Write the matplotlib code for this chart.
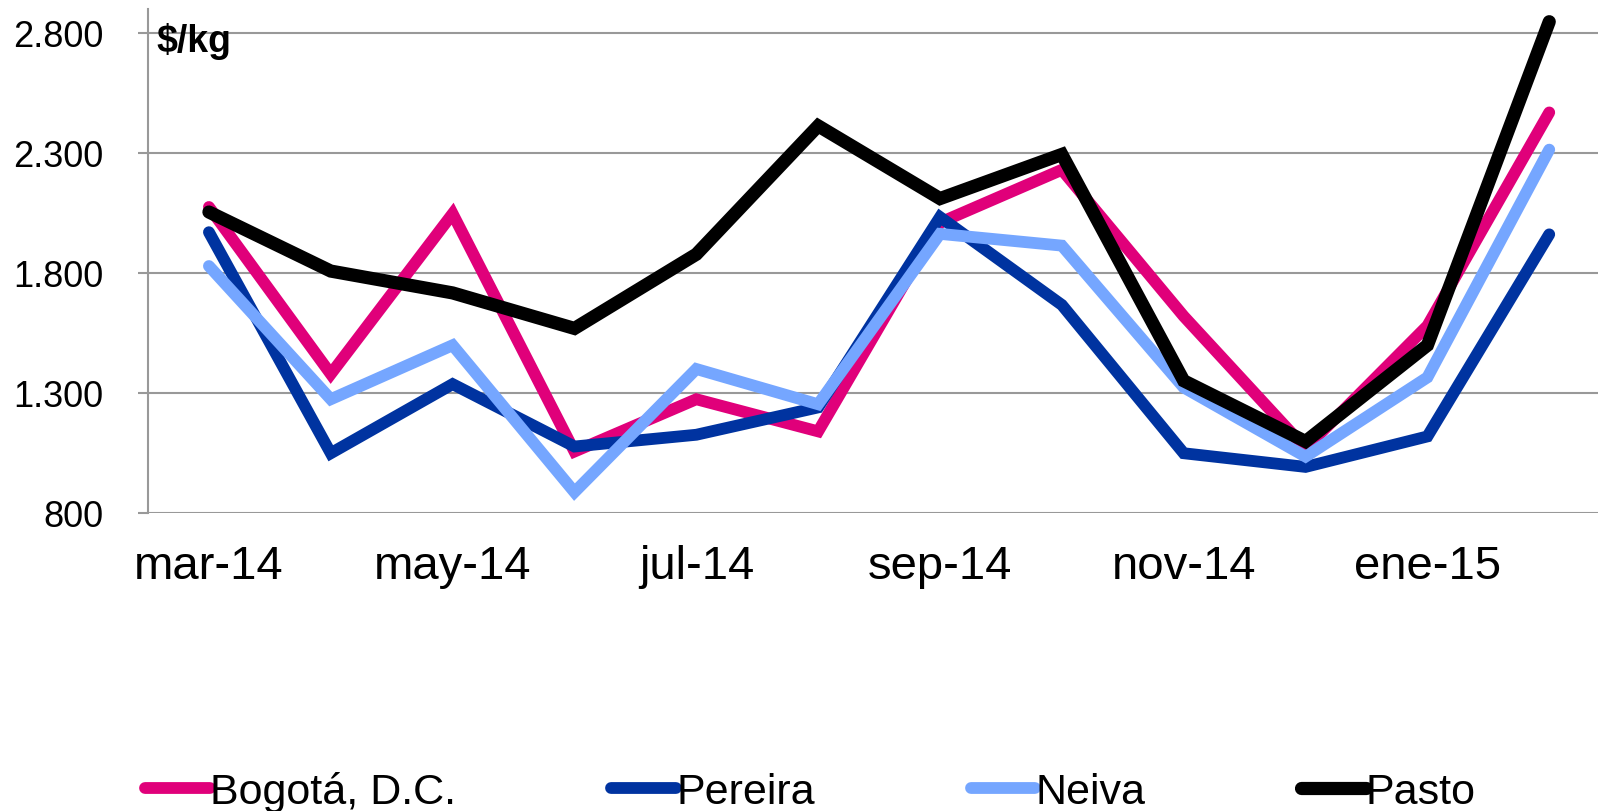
import matplotlib
matplotlib.use("Agg")
import matplotlib.pyplot as plt

plt.rcParams['font.family'] = ['Liberation Sans', 'DejaVu Sans']

months = ['mar-14', 'abr-14', 'may-14', 'jun-14', 'jul-14', 'ago-14',
          'sep-14', 'oct-14', 'nov-14', 'dic-14', 'ene-15', 'feb-15']
bogota = [2075, 1379, 2047, 1056, 1274, 1140, 2010, 2230, 1620, 1070, 1580, 2469]
pereira = [1970, 1049, 1337, 1077, 1126, 1240, 2033, 1667, 1049, 992, 1119, 1961]
neiva = [1829, 1274, 1499, 887, 1400, 1253, 1963, 1914, 1323, 1035, 1365, 2314]
pasto = [2054, 1808, 1717, 1569, 1878, 2413, 2110, 2294, 1351, 1098, 1499, 2847]
yticks = [800, 1300, 1800, 2300, 2800]
ytick_labels = ['800', '1.300', '1.800', '2.300', '2.800']

fig = plt.figure(figsize=(15.98, 8.12), dpi=100)
ax = fig.add_axes([148/1598, 0.367, 0.915, 0.6207])

x = list(range(len(months)))
series = [('Bogotá, D.C.', bogota, '#E0007A', 8.5),
          ('Pereira', pereira, '#0033A0', 8.5),
          ('Neiva', neiva, '#75A6FF', 8.5),
          ('Pasto', pasto, '#000000', 9.5)]
for name, vals, col, lw in series:
    ax.plot(x, vals, color=col, lw=lw, label=name,
            solid_capstyle='round', solid_joinstyle='miter')

ax.set_xlim(-0.5, 11.5)
ax.set_ylim(800, 2900)
ax.set_yticks(yticks)
ax.set_yticklabels(ytick_labels)
ax.set_xticks(x[::2])
ax.set_xticklabels(months[::2])
ax.grid(axis='y', color='#999999', lw=1.5)
ax.set_axisbelow(True)
for s in ['top', 'right', 'bottom']:
    ax.spines[s].set_visible(False)
ax.spines['left'].set_color('#999999')
ax.spines['left'].set_linewidth(1.5)
ax.tick_params(axis='y', length=7, width=1.5, color='#999999', pad=25, labelsize=26)
ax.tick_params(axis='x', length=0, pad=22, labelsize=34)

fig.text(156/1598, 1 - 52/812, '$/kg', fontsize=27, fontweight='bold', va='baseline')

fig.legend(loc='center left', bbox_to_anchor=(145/1598, 0.0234), ncol=4,
           frameon=False, fontsize=31, handlelength=1.5, handletextpad=0.0,
           columnspacing=3.62, borderpad=0, borderaxespad=0)

fig.savefig('out.png', dpi=100)
